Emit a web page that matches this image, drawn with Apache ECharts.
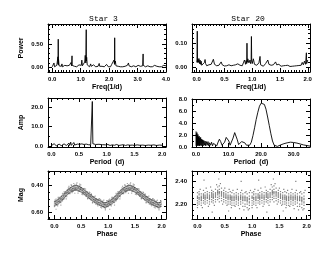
<!DOCTYPE html>
<html><head><meta charset="utf-8">
<script src="https://cdn.jsdelivr.net/npm/echarts@6/dist/echarts.min.js"></script>
<style>html,body{margin:0;padding:0;background:#fff}#c{width:330px;height:255px}</style>
</head><body><div id="c"></div>
<script>
// ---------- DATA ----------
const titles = ['Star 3', 'Star 20'];

// Panel 1: Star 3 power spectrum
const p1Freq = [0.00,0.02,0.04,0.06,0.08,0.10,0.12,0.14,0.16,0.18,0.20,0.205,0.21,0.215,0.22,0.24,0.26,0.28,0.30,0.32,0.34,0.36,0.38,0.40,0.42,0.44,0.46,0.48,0.50,0.52,0.54,0.56,0.58,0.60,0.62,0.64,0.66,0.68,0.695,0.70,0.72,0.74,0.76,0.78,0.80,0.82,0.84,0.86,0.88,0.90,0.92,0.94,0.96,0.98,1.00,1.02,1.04,1.06,1.08,1.10,1.12,1.14,1.16,1.18,1.195,1.20,1.21,1.23,1.25,1.27,1.29,1.31,1.33,1.35,1.37,1.39,1.41,1.43,1.45,1.47,1.49,1.51,1.53,1.55,1.57,1.59,1.61,1.63,1.65,1.67,1.69,1.71,1.73,1.75,1.77,1.79,1.81,1.83,1.85,1.87,1.89,1.91,1.93,1.95,1.97,1.99,2.01,2.03,2.05,2.07,2.09,2.11,2.13,2.15,2.17,2.19,2.195,2.20,2.22,2.24,2.26,2.28,2.30,2.32,2.34,2.36,2.38,2.40,2.42,2.44,2.46,2.48,2.50,2.52,2.54,2.56,2.58,2.60,2.62,2.64,2.66,2.68,2.70,2.72,2.74,2.76,2.78,2.80,2.82,2.84,2.86,2.88,2.90,2.92,2.94,2.96,2.98,3.00,3.02,3.04,3.06,3.08,3.10,3.12,3.14,3.16,3.18,3.195,3.20,3.22,3.24,3.26,3.28,3.30,3.32,3.34,3.36,3.38,3.40,3.42,3.44,3.46,3.48,3.50,3.52,3.54,3.56,3.58,3.60,3.62,3.64,3.66,3.68,3.70,3.72,3.74,3.76,3.78,3.80,3.82,3.84,3.86,3.88,3.90,3.92,3.94,3.96,3.98,4.00];
const p1Power = [0.02,0.05,0.03,0.10,0.02,0.04,0.06,0.02,0.05,0.09,0.23,0.08,0.60,0.06,0.18,0.04,0.07,0.02,0.05,0.03,0.08,0.02,0.04,0.06,0.02,0.05,0.03,0.07,0.02,0.04,0.06,0.02,0.03,0.05,0.02,0.06,0.11,0.04,0.25,0.05,0.08,0.02,0.05,0.03,0.06,0.02,0.04,0.02,0.05,0.03,0.02,0.06,0.03,0.04,0.02,0.05,0.16,0.04,0.06,0.03,0.08,0.12,0.26,0.10,0.80,0.14,0.22,0.06,0.10,0.03,0.06,0.02,0.05,0.08,0.03,0.05,0.02,0.04,0.06,0.02,0.03,0.05,0.02,0.04,0.02,0.06,0.03,0.05,0.09,0.03,0.05,0.02,0.04,0.03,0.06,0.02,0.04,0.02,0.05,0.03,0.02,0.07,0.03,0.04,0.02,0.05,0.03,0.06,0.02,0.04,0.07,0.03,0.10,0.05,0.16,0.07,0.63,0.09,0.14,0.04,0.07,0.02,0.05,0.03,0.06,0.02,0.04,0.02,0.05,0.03,0.06,0.02,0.04,0.02,0.05,0.03,0.02,0.04,0.02,0.05,0.03,0.10,0.04,0.06,0.02,0.04,0.02,0.05,0.03,0.02,0.04,0.02,0.05,0.03,0.02,0.04,0.02,0.03,0.05,0.02,0.04,0.02,0.03,0.05,0.02,0.06,0.04,0.29,0.05,0.07,0.02,0.04,0.02,0.05,0.03,0.02,0.04,0.02,0.03,0.05,0.02,0.04,0.02,0.03,0.02,0.04,0.02,0.03,0.05,0.02,0.04,0.07,0.03,0.04,0.02,0.03,0.02,0.04,0.02,0.03,0.02,0.04,0.02,0.03,0.05,0.02,0.03,0.02,0.04];

// Panel 2: Star 20 power spectrum
const p2Freq = [0.000,0.005,0.010,0.015,0.02,0.03,0.04,0.05,0.06,0.07,0.08,0.09,0.10,0.12,0.14,0.15,0.16,0.18,0.20,0.22,0.24,0.26,0.28,0.30,0.32,0.34,0.36,0.38,0.40,0.42,0.44,0.46,0.48,0.50,0.52,0.54,0.56,0.58,0.60,0.62,0.64,0.66,0.68,0.70,0.72,0.74,0.76,0.78,0.80,0.82,0.84,0.86,0.88,0.89,0.90,0.905,0.91,0.92,0.94,0.96,0.97,0.98,0.985,0.99,1.00,1.02,1.04,1.06,1.08,1.10,1.12,1.14,1.15,1.16,1.18,1.20,1.22,1.24,1.26,1.28,1.30,1.32,1.34,1.36,1.38,1.40,1.42,1.44,1.46,1.48,1.50,1.52,1.54,1.56,1.58,1.60,1.62,1.64,1.66,1.68,1.70,1.72,1.74,1.76,1.78,1.80,1.82,1.84,1.86,1.88,1.90,1.92,1.94,1.96,1.975,1.98,2.00];
const p2Power = [0.020,0.030,0.150,0.020,0.035,0.020,0.036,0.015,0.030,0.012,0.025,0.008,0.015,0.005,0.020,0.032,0.015,0.006,0.004,0.010,0.005,0.012,0.020,0.033,0.012,0.004,0.006,0.003,0.008,0.012,0.022,0.010,0.003,0.005,0.002,0.006,0.004,0.010,0.016,0.006,0.003,0.008,0.004,0.010,0.006,0.014,0.022,0.008,0.012,0.006,0.018,0.030,0.012,0.028,0.015,0.100,0.020,0.035,0.018,0.030,0.015,0.025,0.128,0.030,0.015,0.035,0.012,0.020,0.008,0.012,0.018,0.045,0.010,0.006,0.010,0.004,0.008,0.015,0.022,0.030,0.012,0.005,0.008,0.004,0.010,0.016,0.022,0.010,0.005,0.012,0.008,0.004,0.010,0.006,0.012,0.007,0.004,0.008,0.005,0.003,0.006,0.004,0.007,0.005,0.010,0.006,0.012,0.007,0.015,0.008,0.020,0.010,0.025,0.012,0.060,0.015,0.030];

// Panel 3: Star 3 amplitude vs period
const p3Period = [0.00,0.02,0.03,0.05,0.06,0.08,0.09,0.11,0.12,0.14,0.15,0.17,0.18,0.20,0.21,0.23,0.24,0.26,0.27,0.29,0.30,0.32,0.33,0.35,0.36,0.38,0.39,0.41,0.42,0.44,0.45,0.47,0.49,0.51,0.53,0.55,0.57,0.59,0.61,0.63,0.65,0.67,0.69,0.71,0.73,0.74,0.75,0.77,0.80,0.83,0.86,0.89,0.92,0.95,0.98,1.02,1.06,1.10,1.14,1.18,1.22,1.26,1.30,1.34,1.38,1.42,1.46,1.50,1.55,1.60,1.65,1.70,1.75,1.80,1.85,1.90,1.95,2.00];
const p3Amp = [0.2,1.0,0.1,1.2,0.2,0.9,0.1,1.1,0.3,1.0,0.2,1.3,0.2,0.9,0.3,1.1,0.2,1.4,0.3,1.0,0.4,1.5,0.3,2.0,0.4,1.2,0.3,1.8,0.5,1.3,0.3,1.0,0.2,0.9,0.3,1.1,0.2,0.8,0.3,1.0,0.2,0.7,0.3,0.6,1.5,23.0,1.2,0.5,0.8,0.3,0.9,0.4,0.7,0.3,0.6,0.8,0.3,0.6,0.4,0.8,0.3,0.5,0.7,0.3,0.6,0.4,0.5,0.3,0.6,0.4,0.5,0.3,0.5,0.4,0.6,0.3,0.5,0.4];

// Panel 4: Star 20 amplitude vs period
const p4Period = [0.05,0.1,0.15,0.2,0.3,0.35,0.45,0.5,0.6,0.7,0.8,0.9,1.0,1.1,1.2,1.3,1.45,1.6,1.75,1.9,2.05,2.2,2.4,2.6,2.8,3.0,3.2,3.45,3.7,3.95,4.2,4.5,4.8,5.1,5.4,5.7,6.0,6.4,6.8,7.2,7.6,8.0,8.4,8.8,9.3,9.7,10.1,10.5,10.9,11.4,11.9,12.3,12.7,13.1,13.5,14.0,14.5,15.0,15.5,16.0,16.5,17.0,17.5,18.0,18.5,19.0,19.5,20.0,20.5,21.0,21.5,22.0,22.5,23.0,23.5,24.0,24.5,25.0,25.5,26.0,27.0,28.0,29.0,30.0,31.0,32.0,33.0,34.0,35.0];
const p4Amp = [2.6,0.2,2.2,0.3,2.4,0.2,1.9,0.3,2.1,0.2,1.7,0.3,1.8,0.2,1.5,0.3,1.6,0.2,1.3,0.3,1.2,0.2,1.1,0.3,1.0,0.2,0.9,0.3,0.9,0.2,0.7,0.3,0.8,0.2,0.6,0.3,0.5,0.2,0.8,1.3,0.9,0.3,0.2,0.8,1.6,1.8,1.0,0.3,0.4,1.5,2.4,2.2,1.2,0.4,0.6,0.9,1.0,0.7,0.3,0.15,0.3,0.8,1.9,3.2,4.6,5.8,6.8,7.3,7.4,7.1,6.3,5.0,3.6,2.2,1.0,0.3,0.1,0.1,0.2,0.35,0.55,0.7,0.8,0.75,0.65,0.5,0.35,0.25,0.15];

// Panel 5: Star 3 folded light curve (phase bins, four measurements each)
const p5Phase = [0.00,0.01,0.02,0.03,0.04,0.05,0.06,0.07,0.08,0.09,0.10,0.11,0.12,0.13,0.14,0.15,0.16,0.17,0.18,0.19,0.20,0.21,0.22,0.23,0.24,0.25,0.26,0.27,0.28,0.29,0.30,0.31,0.32,0.33,0.34,0.35,0.36,0.37,0.38,0.39,0.40,0.41,0.42,0.43,0.44,0.45,0.46,0.47,0.48,0.49,0.50,0.51,0.52,0.53,0.54,0.55,0.56,0.57,0.58,0.59,0.60,0.61,0.62,0.63,0.64,0.65,0.66,0.67,0.68,0.69,0.70,0.71,0.72,0.73,0.74,0.75,0.76,0.77,0.78,0.79,0.80,0.81,0.82,0.83,0.84,0.85,0.86,0.87,0.88,0.89,0.90,0.91,0.92,0.93,0.94,0.95,0.96,0.97,0.98,0.99];
const p5MagA = [0.548,0.551,0.543,0.546,0.540,0.544,0.536,0.538,0.531,0.530,0.524,0.523,0.516,0.515,0.508,0.507,0.500,0.499,0.492,0.491,0.484,0.483,0.476,0.475,0.468,0.467,0.461,0.461,0.455,0.455,0.449,0.450,0.445,0.446,0.441,0.442,0.438,0.440,0.436,0.438,0.434,0.437,0.435,0.439,0.437,0.442,0.441,0.446,0.445,0.450,0.449,0.455,0.455,0.461,0.461,0.467,0.467,0.473,0.473,0.479,0.479,0.485,0.485,0.491,0.491,0.497,0.497,0.503,0.503,0.509,0.509,0.515,0.515,0.521,0.521,0.527,0.526,0.531,0.530,0.535,0.534,0.539,0.538,0.543,0.542,0.547,0.546,0.551,0.550,0.555,0.554,0.558,0.556,0.560,0.558,0.562,0.558,0.559,0.554,0.555];
const p5MagB = [0.522,0.520,0.515,0.517,0.511,0.512,0.506,0.505,0.500,0.498,0.494,0.491,0.486,0.483,0.478,0.474,0.471,0.466,0.463,0.458,0.455,0.450,0.447,0.442,0.439,0.434,0.432,0.428,0.426,0.422,0.420,0.417,0.416,0.413,0.412,0.409,0.409,0.407,0.407,0.405,0.405,0.404,0.406,0.406,0.408,0.409,0.412,0.413,0.416,0.417,0.420,0.422,0.426,0.428,0.432,0.434,0.438,0.440,0.444,0.446,0.450,0.452,0.456,0.458,0.462,0.464,0.468,0.470,0.474,0.476,0.480,0.482,0.486,0.488,0.492,0.494,0.497,0.498,0.501,0.502,0.505,0.506,0.509,0.510,0.513,0.514,0.517,0.518,0.521,0.522,0.525,0.525,0.527,0.527,0.529,0.529,0.529,0.526,0.525,0.522];
const p5MagC = [0.537,0.530,0.534,0.526,0.531,0.522,0.525,0.515,0.520,0.510,0.513,0.503,0.506,0.495,0.497,0.487,0.489,0.479,0.481,0.471,0.473,0.463,0.465,0.455,0.457,0.447,0.450,0.441,0.444,0.435,0.438,0.430,0.434,0.426,0.430,0.422,0.427,0.420,0.425,0.418,0.423,0.417,0.424,0.419,0.426,0.422,0.430,0.426,0.434,0.430,0.438,0.435,0.444,0.441,0.450,0.447,0.456,0.453,0.462,0.459,0.468,0.465,0.474,0.471,0.480,0.477,0.486,0.483,0.492,0.489,0.498,0.495,0.504,0.501,0.510,0.507,0.515,0.511,0.519,0.515,0.523,0.519,0.527,0.523,0.531,0.527,0.535,0.531,0.539,0.535,0.543,0.538,0.545,0.540,0.547,0.542,0.547,0.539,0.543,0.535];
const p5MagD = [0.556,0.520,0.537,0.502,0.542,0.521,0.550,0.500,0.518,0.489,0.522,0.498,0.527,0.482,0.503,0.461,0.504,0.480,0.501,0.463,0.449,0.480,0.457,0.485,0.437,0.453,0.421,0.463,0.432,0.462,0.422,0.440,0.403,0.445,0.426,0.447,0.406,0.434,0.399,0.426,0.437,0.395,0.429,0.408,0.449,0.419,0.447,0.407,0.432,0.423,0.420,0.467,0.438,0.457,0.427,0.454,0.426,0.466,0.452,0.483,0.471,0.450,0.495,0.462,0.480,0.451,0.498,0.481,0.508,0.469,0.486,0.525,0.485,0.506,0.486,0.522,0.508,0.539,0.502,0.526,0.542,0.511,0.529,0.500,0.545,0.529,0.560,0.514,0.545,0.523,0.516,0.554,0.535,0.563,0.541,0.571,0.527,0.552,0.512,0.542];
const p5OutPhase = [0.01,0.03,0.07,0.12,0.15,0.18,0.22,0.27,0.31,0.33,0.36,0.38,0.42,0.44,0.47,0.49,0.53,0.58,0.62,0.66,0.69,0.71,0.76,0.81,0.84,0.86,0.88,0.92,0.95,0.98];
const p5OutMag = [0.510,0.575,0.490,0.545,0.515,0.450,0.500,0.410,0.400,0.455,0.390,0.460,0.385,0.460,0.395,0.400,0.470,0.430,0.500,0.455,0.465,0.530,0.480,0.550,0.500,0.505,0.565,0.510,0.580,0.515];

// Panel 6: Star 20 folded light curve (nightly clusters)
const p6ClusterPhase = [0.00,0.03,0.07,0.11,0.14,0.18,0.22,0.26,0.29,0.33,0.37,0.40,0.44,0.48,0.52,0.56,0.60,0.63,0.67,0.71,0.75,0.79,0.83,0.87,0.91,0.95];
const p6ClusterMag = [
 [2.30,2.27,2.25,2.23,2.21,2.19,2.26,2.17],[2.31,2.28,2.26,2.24,2.22,2.20,2.25,2.29],
 [2.29,2.27,2.25,2.23,2.21,2.26,2.19,2.24],[2.32,2.29,2.27,2.25,2.23,2.21,2.26,2.28],
 [2.30,2.28,2.26,2.24,2.22,2.27,2.20,2.25],[2.31,2.29,2.27,2.25,2.23,2.21,2.28,2.26],
 [2.30,2.28,2.26,2.24,2.22,2.27,2.25,2.20],[2.32,2.30,2.28,2.26,2.24,2.22,2.27,2.29],
 [2.31,2.29,2.27,2.25,2.23,2.28,2.21,2.26],[2.33,2.30,2.28,2.26,2.24,2.22,2.29,2.27],
 [2.35,2.32,2.30,2.28,2.26,2.24,2.29,2.31],[2.36,2.33,2.31,2.29,2.27,2.25,2.22,2.30],
 [2.34,2.31,2.29,2.27,2.25,2.30,2.23,2.28],[2.32,2.30,2.28,2.26,2.24,2.29,2.27,2.22],
 [2.31,2.29,2.27,2.25,2.23,2.28,2.26,2.21],[2.30,2.28,2.26,2.24,2.22,2.27,2.25,2.20],
 [2.31,2.28,2.26,2.24,2.22,2.27,2.25,2.20],[2.30,2.27,2.25,2.23,2.21,2.26,2.24,2.19],
 [2.29,2.27,2.25,2.23,2.21,2.26,2.24,2.19],[2.30,2.28,2.26,2.24,2.22,2.27,2.25,2.20],
 [2.29,2.27,2.25,2.23,2.21,2.26,2.19,2.24],[2.30,2.28,2.26,2.24,2.22,2.25,2.20,2.27],
 [2.29,2.27,2.25,2.23,2.21,2.26,2.18,2.24],[2.30,2.27,2.25,2.23,2.20,2.26,2.18,2.24],
 [2.29,2.26,2.24,2.22,2.20,2.25,2.17,2.23],[2.30,2.27,2.24,2.22,2.19,2.25,2.16,2.21]];
const p6SparsePhase = [0.05,0.09,0.12,0.16,0.20,0.24,0.27,0.31,0.35,0.39,0.42,0.46,0.50,0.54,0.57,0.58,0.62,0.65,0.69,0.73,0.77,0.80,0.81,0.85,0.89,0.93,0.97];
const p6SparseMag = [2.33,2.17,2.41,2.34,2.18,2.35,2.13,2.19,2.37,2.42,2.38,2.20,2.34,2.19,2.14,2.33,2.17,2.32,2.18,2.33,2.16,2.40,2.32,2.15,2.31,2.15,2.32];

// Tick values (labelled) per panel
const p1XTicks = [0,1,2,3,4],      p1YTicks = [0,0.5];
const p2XTicks = [0,0.5,1,1.5,2],  p2YTicks = [0,0.1];
const p3XTicks = [0,0.5,1,1.5,2],  p3YTicks = [0,10,20];
const p4XTicks = [0,10,20,30],     p4YTicks = [0,2,4,6,8];
const p5XTicks = [0,0.5,1,1.5,2],  p5YTicks = [0.4,0.6];
const p6XTicks = [0,0.5,1,1.5,2],  p6YTicks = [2.2,2.4];

// ---------- BUILD ----------
function steps(a, b, s) { const r = []; const k0 = Math.ceil(a / s - 1e-9); for (let k = k0; k * s <= b + 1e-9; k++) r.push(+(k * s).toFixed(6)); return r; }
const FONT = 'Liberation Sans';
const lineData = (xs, ys) => xs.map((x, i) => [x, ys[i]]);
function fold(xs, ys) { const out = []; for (const c of [0, 1]) xs.forEach((x, i) => out.push([x + c, ys[i]])); return out; }

const p5Data = [].concat(fold(p5Phase, p5MagA), fold(p5Phase, p5MagB), fold(p5Phase, p5MagC), fold(p5Phase, p5MagD), fold(p5OutPhase, p5OutMag));
const p6Flat = [[], []];
p6ClusterPhase.forEach((ph, i) => p6ClusterMag[i].forEach(m => { p6Flat[0].push(ph); p6Flat[1].push(m); }));
const p6Data = [].concat(fold(p6Flat[0], p6Flat[1]), fold(p6SparsePhase, p6SparseMag));

const panels = [
  { box:{left:48,top:24,width:118,height:48}, x:[-0.15,4.0], y:[-0.09,0.92], xt:p1XTicks, yt:p1YTicks, xm:0.1, ym:0.1, xd:1, yd:2, xName:'Freq(1/d)', yName:'Power', kind:'line', data:lineData(p1Freq,p1Power) },
  { box:{left:192,top:24,width:118,height:48}, x:[-0.085,2.04], y:[-0.02,0.18], xt:p2XTicks, yt:p2YTicks, xm:0.05, ym:0.02, xd:1, yd:2, xName:'Freq(1/d)', yName:'', kind:'line', data:lineData(p2Freq,p2Power) },
  { box:{left:48,top:98,width:118,height:49}, x:[-0.06,2.07], y:[-0.5,24.8], xt:p3XTicks, yt:p3YTicks, xm:0.1, ym:5, xd:1, yd:1, xName:'Period  (d)', yName:'Amp', kind:'line', data:lineData(p3Period,p3Amp) },
  { box:{left:192,top:99,width:118,height:48}, x:[-1.2,35], y:[0,8], xt:p4XTicks, yt:p4YTicks, xm:2, ym:1, xd:1, yd:1, xName:'Period  (d)', yName:'', kind:'line', data:lineData(p4Period,p4Amp) },
  { box:{left:48,top:171,width:118,height:48}, x:[-0.12,2.08], y:[0.30,0.645], inv:true, xt:p5XTicks, yt:p5YTicks, xm:0.1, ym:0.05, xd:1, yd:2, xName:'Phase', yName:'Mag', kind:'scatter', color:'rgba(0,0,0,0.42)', data:p5Data },
  { box:{left:192,top:171,width:118,height:48}, x:[-0.1,2.06], y:[2.07,2.49], xt:p6XTicks, yt:p6YTicks, xm:0.1, ym:0.05, xd:1, yd:2, xName:'Phase', yName:'', kind:'scatter', color:'rgba(0,0,0,0.62)', data:p6Data }
];

const option = { animation:false, backgroundColor:'#fff', grid:[], xAxis:[], yAxis:[], series:[], graphic:[] };
const black = { color:'#000', width:1 };
const lblStyle = { color:'#000', fontFamily:FONT, fontSize:6, fontWeight:'bold' };
const nameStyle = { color:'#000', fontFamily:FONT, fontSize:7, fontWeight:'bold' };

panels.forEach(P => {
  const g = option.grid.length;
  option.grid.push(P.box);
  const xi = option.xAxis.length, yi = option.yAxis.length;
  const xMinor = steps(P.x[0], P.x[1], P.xm), yMinor = steps(P.y[0], P.y[1], P.ym);
  const common = (rng, extra) => Object.assign({ gridIndex:g, type:'value', min:rng[0], max:rng[1], splitLine:{show:false}, minorTick:{show:false}, silent:true }, extra);
  const tick = (vals, len) => ({ show:true, inside:true, length:len, customValues:vals, lineStyle:black });
  option.xAxis.push(common(P.x, { position:'bottom', axisLine:{show:true, onZero:false, lineStyle:black}, axisTick:tick(P.xt,4),
    axisLabel:{ show:true, customValues:P.xt, margin:4, formatter:v => v.toFixed(P.xd), ...lblStyle },
    name:P.xName, nameLocation:'middle', nameGap:12, nameTextStyle:nameStyle }));
  option.xAxis.push(common(P.x, { position:'bottom', axisLine:{show:false, onZero:false}, axisTick:tick(xMinor,2), axisLabel:{show:false} }));
  option.xAxis.push(common(P.x, { position:'top', axisLine:{show:true, onZero:false, lineStyle:black}, axisTick:tick(P.xt,4), axisLabel:{show:false} }));
  option.xAxis.push(common(P.x, { position:'top', axisLine:{show:false, onZero:false}, axisTick:tick(xMinor,2), axisLabel:{show:false} }));
  option.yAxis.push(common(P.y, { inverse:!!P.inv, position:'left', axisLine:{show:true, onZero:false, lineStyle:black}, axisTick:tick(P.yt,4),
    axisLabel:{ show:true, customValues:P.yt, margin:5, formatter:v => v.toFixed(P.yd), ...lblStyle },
    name:P.yName, nameLocation:'middle', nameGap:23, nameTextStyle:nameStyle }));
  option.yAxis.push(common(P.y, { inverse:!!P.inv, position:'left', axisLine:{show:false, onZero:false}, axisTick:tick(yMinor,2), axisLabel:{show:false} }));
  option.yAxis.push(common(P.y, { inverse:!!P.inv, position:'right', axisLine:{show:true, onZero:false, lineStyle:black}, axisTick:tick(P.yt,4), axisLabel:{show:false} }));
  option.yAxis.push(common(P.y, { inverse:!!P.inv, position:'right', axisLine:{show:false, onZero:false}, axisTick:tick(yMinor,2), axisLabel:{show:false} }));
  if (P.kind === 'line') {
    option.series.push({ type:'line', xAxisIndex:xi, yAxisIndex:yi, data:P.data, showSymbol:false, symbol:'none', lineStyle:{color:'#000', width:0.9}, clip:true, silent:true });
  } else {
    option.series.push({ type:'scatter', xAxisIndex:xi, yAxisIndex:yi, data:P.data, symbol:'rect', symbolSize:1.2, itemStyle:{color:P.color}, clip:true, silent:true });
  }
});

option.graphic.push({ type:'text', x:103.5, y:19, style:{ text:titles[0], fill:'#000', font:'normal 8px "Liberation Mono"', textAlign:'center', textVerticalAlign:'middle' } });
option.graphic.push({ type:'text', x:248, y:19, style:{ text:titles[1], fill:'#000', font:'normal 8px "Liberation Mono"', textAlign:'center', textVerticalAlign:'middle' } });

echarts.init(document.getElementById('c'), null, { renderer:'canvas' }).setOption(option);
</script></body></html>
